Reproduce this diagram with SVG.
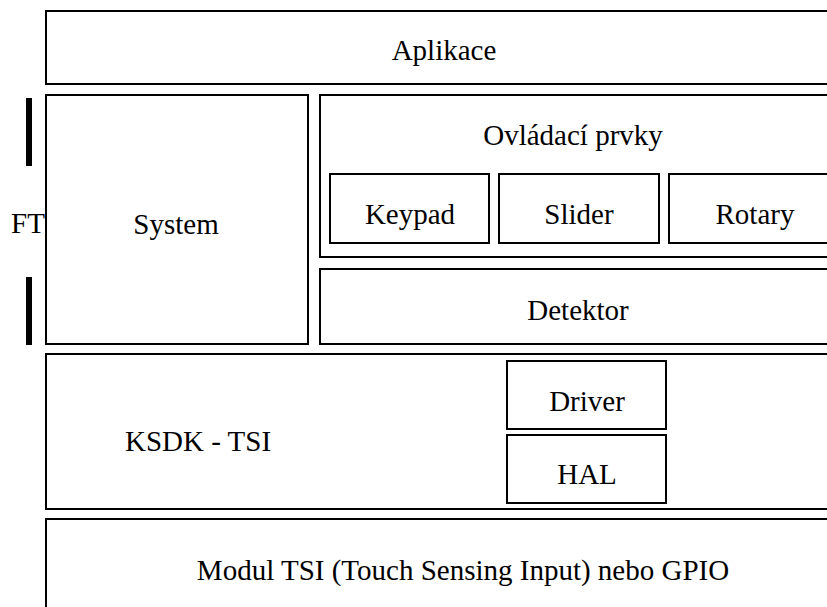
<svg xmlns="http://www.w3.org/2000/svg" width="827" height="607" viewBox="0 0 827 607">
<style>
.box{fill:#fff;stroke:#000;stroke-width:2}
.t{font-family:'Liberation Serif','Times New Roman',Times,'DejaVu Serif',serif;font-size:29px;fill:#000;text-anchor:middle}
.bar{fill:#000}
</style>
<rect width="827" height="607" fill="#fff"/>
<g id="aplikace"><rect class="box" x="46" y="11" width="800" height="73"/><text class="t" x="444" y="60" font-family="Liberation Serif, serif">Aplikace</text></g>
<g id="ft"><rect class="bar" x="26" y="98" width="6" height="68"/><rect class="bar" x="26" y="277" width="6" height="68"/><text class="t" x="28" y="233">FT</text></g>
<g id="system"><rect class="box" x="46" y="95" width="262" height="249"/><text class="t" x="176" y="234">System</text></g>
<g id="ovladaci"><rect class="box" x="320" y="95" width="526" height="162"/><text class="t" x="573" y="145">Ovládací prvky</text></g>
<g id="keypad"><rect class="box" x="330" y="174" width="159" height="69"/><text class="t" x="410" y="224">Keypad</text></g>
<g id="slider"><rect class="box" x="499" y="174" width="160" height="69"/><text class="t" x="579" y="224">Slider</text></g>
<g id="rotary"><rect class="box" x="669" y="174" width="160" height="69"/><text class="t" x="755" y="224">Rotary</text></g>
<g id="detektor"><rect class="box" x="320" y="269" width="526" height="75"/><text class="t" x="578" y="320">Detektor</text></g>
<g id="ksdk"><rect class="box" x="46" y="354" width="800" height="155"/><text class="t" x="198" y="451">KSDK - TSI</text></g>
<g id="driver"><rect class="box" x="507" y="361" width="159" height="68"/><text class="t" x="587" y="411">Driver</text></g>
<g id="hal"><rect class="box" x="507" y="435" width="159" height="68"/><text class="t" x="587" y="484">HAL</text></g>
<g id="modul"><rect class="box" x="46" y="519" width="800" height="100"/><text class="t" x="463" y="580">Modul TSI (Touch Sensing Input) nebo GPIO</text></g>
<g id="connectors"></g>
</svg>
